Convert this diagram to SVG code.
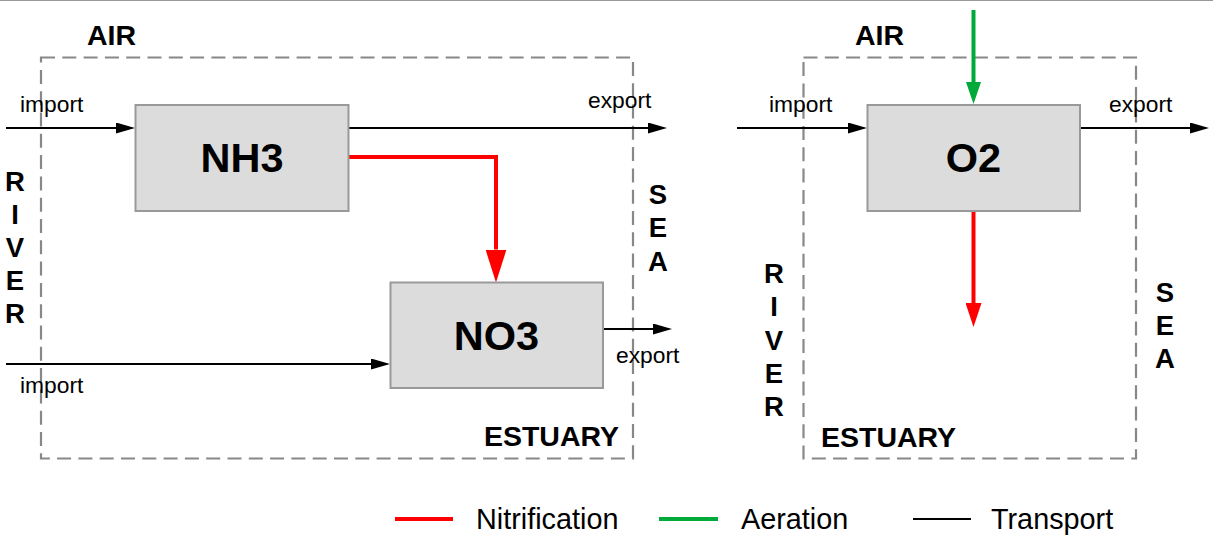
<svg xmlns="http://www.w3.org/2000/svg" width="1213" height="547" viewBox="0 0 1213 547">
<style>
text{font-family:"Liberation Sans",Arial,sans-serif;fill:#000}
.lbl{font-size:22.8px}
.zone{font-size:28.5px;font-weight:bold}
.side{font-size:27.5px;font-weight:bold;text-anchor:middle}
.node rect{fill:#dcdcdc;stroke:#999;stroke-width:2}
.node text{font-size:41.5px;font-weight:bold;text-anchor:middle}
.frame{fill:none;stroke:#888;stroke-width:2.2;stroke-dasharray:14,7.3}
.tr{fill:none;stroke:#000;stroke-width:2}
.nit{fill:none;stroke:#f00;stroke-width:4}
.aer{fill:none;stroke:#00aa3a;stroke-width:4}
.leg{font-size:28.8px}
</style>
<defs>
<marker id="ab" markerUnits="userSpaceOnUse" markerWidth="19" markerHeight="11" refX="0" refY="5.5" orient="auto"><path d="M0,0L19,5.5L0,11Z" fill="#000"/></marker>
<marker id="arBig" markerUnits="userSpaceOnUse" markerWidth="33" markerHeight="21" refX="0" refY="10.5" orient="auto"><path d="M0,0L33,10.5L0,21Z" fill="#f00"/></marker>
<marker id="arSm" markerUnits="userSpaceOnUse" markerWidth="24" markerHeight="16" refX="0" refY="8" orient="auto"><path d="M0,0L24,8L0,16Z" fill="#f00"/></marker>
<marker id="ag" markerUnits="userSpaceOnUse" markerWidth="22" markerHeight="15" refX="0" refY="7.5" orient="auto"><path d="M0,0L22,7.5L0,15Z" fill="#00aa3a"/></marker>
</defs>
<rect width="1213" height="547" fill="#fff"/>
<line x1="0" y1="0.5" x2="1213" y2="0.5" stroke="#999" stroke-width="1"/>

<g id="frames">
<rect class="frame" x="41" y="57.5" width="592" height="401"/>
<rect class="frame" x="803.5" y="57.5" width="332.5" height="401"/>
</g>

<g id="zone-labels">
<text class="zone" x="87" y="45">AIR</text>
<text class="zone" x="855" y="45">AIR</text>
<text class="zone" x="619" y="446" text-anchor="end">ESTUARY</text>
<text class="zone" x="821" y="447">ESTUARY</text>
<g class="side-left">
<text class="side" x="15" y="191">R</text>
<text class="side" x="15" y="224">I</text>
<text class="side" x="15" y="257">V</text>
<text class="side" x="15" y="290">E</text>
<text class="side" x="15" y="323">R</text>
</g>
<g class="sea-left">
<text class="side" x="658" y="204">S</text>
<text class="side" x="658" y="237">E</text>
<text class="side" x="658" y="271">A</text>
</g>
<g class="side-right">
<text class="side" x="774" y="283">R</text>
<text class="side" x="774" y="316">I</text>
<text class="side" x="774" y="350">V</text>
<text class="side" x="774" y="383">E</text>
<text class="side" x="774" y="416">R</text>
</g>
<g class="sea-right">
<text class="side" x="1165" y="302">S</text>
<text class="side" x="1165" y="335">E</text>
<text class="side" x="1165" y="368">A</text>
</g>
</g>

<g id="connectors">
<line class="tr" x1="6" y1="128" x2="116" y2="128" marker-end="url(#ab)"/>
<line class="tr" x1="348" y1="128" x2="648" y2="128" marker-end="url(#ab)"/>
<line class="tr" x1="603" y1="329" x2="653" y2="329" marker-end="url(#ab)"/>
<line class="tr" x1="6" y1="364" x2="371" y2="364" marker-end="url(#ab)"/>
<line class="tr" x1="737" y1="128" x2="848" y2="128" marker-end="url(#ab)"/>
<line class="tr" x1="1080" y1="128" x2="1190" y2="128" marker-end="url(#ab)"/>
<path class="nit" d="M348,157H496V249.5" marker-end="url(#arBig)"/>
<path class="aer" d="M973.5,10V82" marker-end="url(#ag)"/>
<path class="nit" d="M973.5,211V303" marker-end="url(#arSm)"/>
<text class="lbl" x="20" y="112">import</text>
<text class="lbl" x="588" y="108">export</text>
<text class="lbl" x="616" y="363">export</text>
<text class="lbl" x="20" y="393">import</text>
<text class="lbl" x="769" y="112">import</text>
<text class="lbl" x="1109" y="112">export</text>
</g>

<g id="node-nh3" class="node">
<rect x="135.5" y="105" width="213" height="106"/>
<text x="242" y="172">NH3</text>
</g>
<g id="node-no3" class="node">
<rect x="390.5" y="282.5" width="212.5" height="105.5"/>
<text x="496.5" y="350">NO3</text>
</g>
<g id="node-o2" class="node">
<rect x="867.5" y="105" width="212.5" height="106"/>
<text x="973.5" y="172">O2</text>
</g>

<g id="legend">
<line x1="395" y1="519" x2="453" y2="519" stroke="#f00" stroke-width="4"/>
<text class="leg" x="476" y="529">Nitrification</text>
<line x1="659" y1="519" x2="718" y2="519" stroke="#00aa3a" stroke-width="4"/>
<text class="leg" x="741" y="529">Aeration</text>
<line x1="913" y1="519" x2="971" y2="519" stroke="#000" stroke-width="2"/>
<text class="leg" x="991" y="529">Transport</text>
</g>
</svg>
